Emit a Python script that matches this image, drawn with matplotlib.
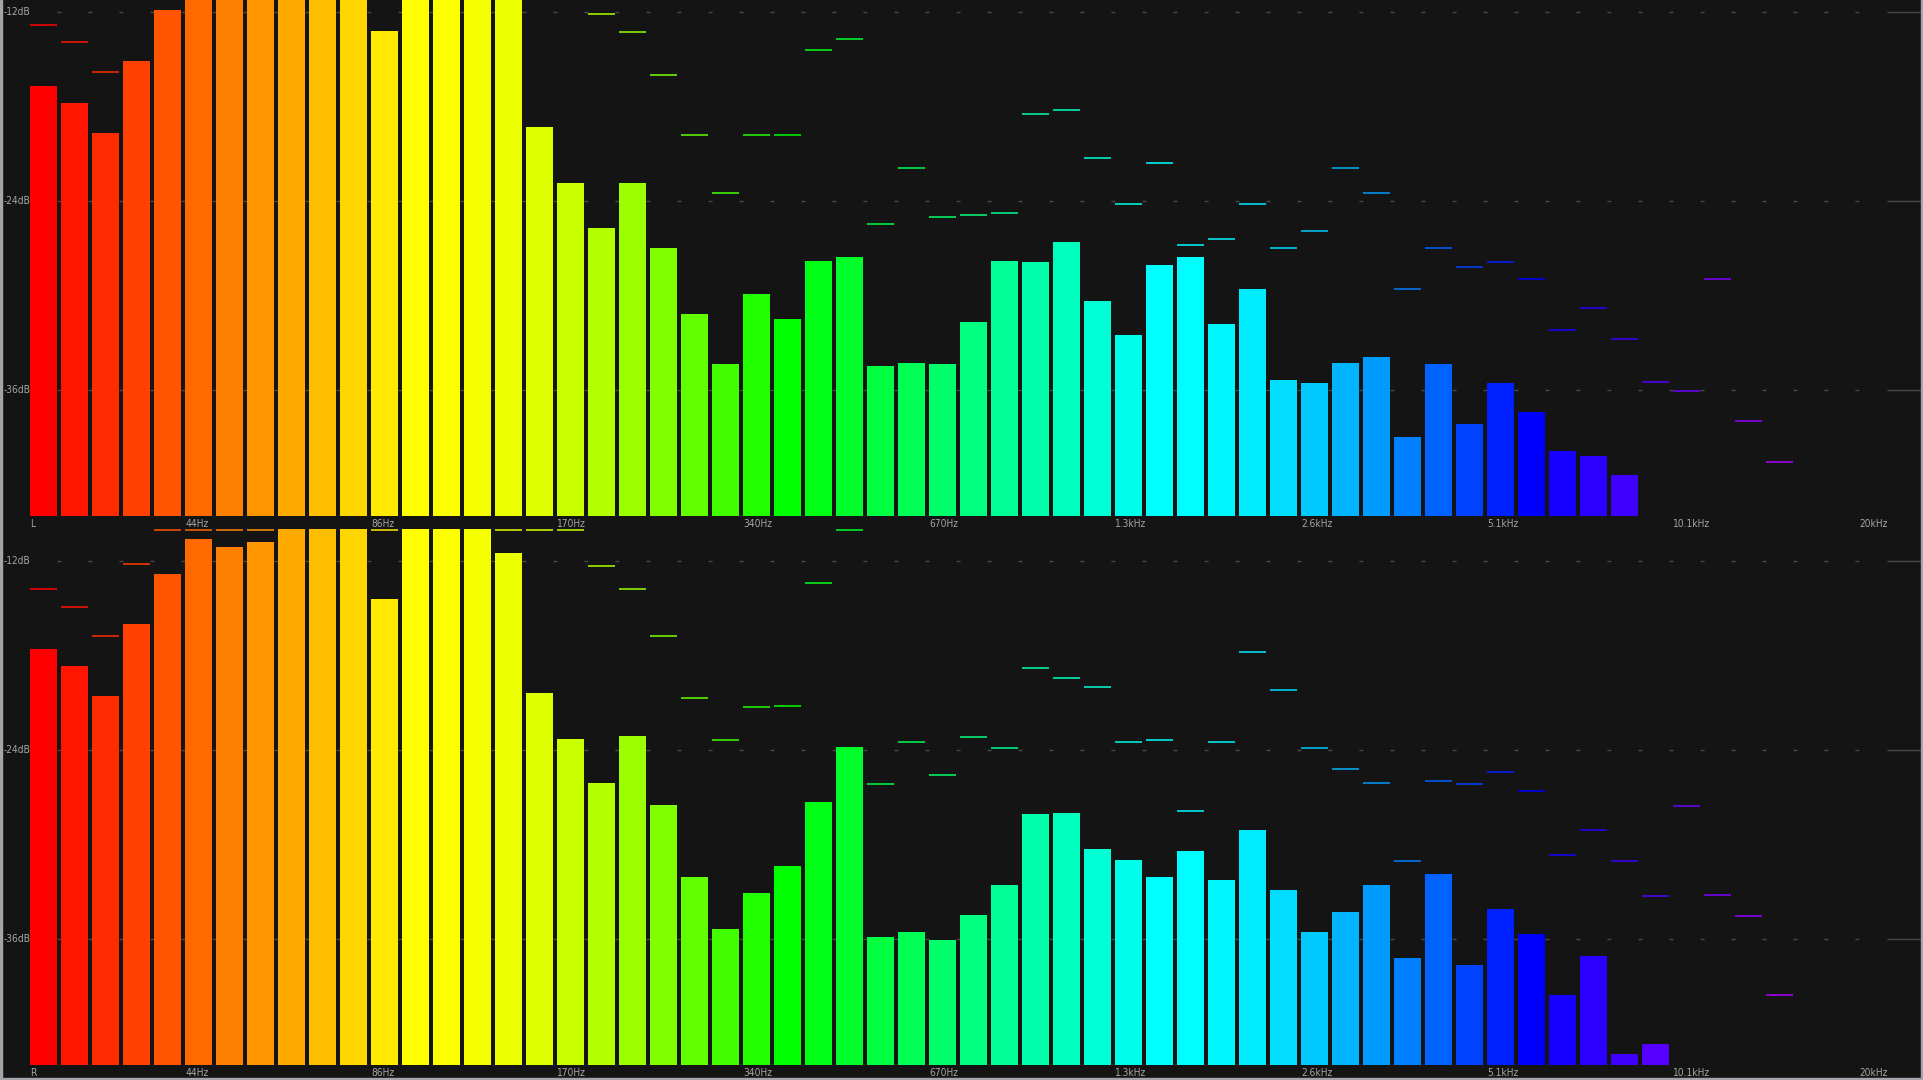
import numpy as np
import matplotlib
matplotlib.use("Agg")
import matplotlib.pyplot as plt
from matplotlib import font_manager
from matplotlib.patches import Rectangle

# band labels (1/6 octave slots), dB gridlines
band_labels = ["44Hz", "86Hz", "170Hz", "340Hz", "670Hz", "1.3kHz",
               "2.6kHz", "5.1kHz", "10.1kHz", "20kHz"]
band_label_slots = [5, 11, 17, 23, 29, 35, 41, 47, 53, 59]
db_ticks = [-12, -24, -36]
channel_names = ["L", "R"]

# current level per band, dB (slots 0..52)
left_level = [-16.7, -17.8, -19.7, -15.1, -11.9, -10.4, -10.1, -9.6, -10.0, -9.8,
              -10.6, -13.2, -9.5, -9.2, -9.7, -10.9, -19.3, -22.9, -25.7, -22.9,
              -27.0, -31.2, -34.4, -29.9, -31.5, -27.8, -27.6, -34.5, -34.3, -34.4,
              -31.7, -27.8, -27.9, -26.6, -30.4, -32.5, -28.1, -27.6, -31.8, -29.6,
              -35.4, -35.6, -34.3, -33.9, -39.0, -34.4, -38.2, -35.6, -37.4, -39.9,
              -40.2, -41.4, -44.0]
right_level = [-17.6, -18.7, -20.6, -16.0, -12.8, -10.6, -11.1, -10.8, -9.6, -9.3,
               -9.5, -14.4, -9.2, -9.0, -9.4, -11.5, -20.4, -23.3, -26.1, -23.1,
               -27.5, -32.1, -35.4, -33.1, -31.4, -27.3, -23.8, -35.9, -35.6, -36.1,
               -34.5, -32.6, -28.1, -28.0, -30.3, -31.0, -32.1, -30.4, -32.3, -29.1,
               -32.9, -35.6, -34.3, -32.6, -37.2, -31.9, -37.7, -34.1, -35.7, -39.6,
               -37.1, -43.3, -42.7]

# peak hold per band, dB (slots 0..56)
left_peak = [-12.8, -13.9, -15.8, -10.9, -10.2, -9.6, -9.0, -8.8, -9.1, -8.9,
             -9.4, -10.3, -8.7, -8.5, -8.9, -9.6, -10.6, -10.8, -12.1, -13.3,
             -16.0, -19.8, -23.5, -19.8, -19.8, -14.4, -13.7, -25.5, -21.9, -25.0,
             -24.9, -24.8, -18.5, -18.2, -21.3, -24.2, -21.6, -26.8, -26.4, -24.2,
             -27.0, -25.9, -21.9, -23.5, -29.6, -27.0, -28.2, -27.9, -29.0, -32.2,
             -30.8, -32.8, -35.5, -36.1, -29.0, -38.0, -40.6]
right_peak = [-13.75, -14.9, -16.75, -12.2, -9.5, -9.2, -9.6, -9.4, -8.8, -8.6,
              -8.9, -9.7, -8.5, -8.4, -8.7, -9.3, -9.6, -9.8, -12.3, -13.8,
              -16.75, -20.7, -23.4, -21.3, -21.2, -13.4, -9.8, -26.15, -23.5, -25.6,
              -23.2, -23.85, -18.8, -19.4, -20.0, -23.5, -23.35, -27.9, -23.5, -17.8,
              -20.2, -23.9, -25.2, -26.1, -31.05, -26.0, -26.15, -25.4, -26.6, -30.7,
              -29.1, -31.05, -33.3, -27.55, -33.2, -34.55, -39.6]

FLOOR = -44.0
TOP = -9.95
SLOTS = 61
BAR_W = 27 / 31
BG = "#141414"
TXT = "#a6a6a6"
GRID = "#484848"

# a narrow ui-ish font if there is one
_names = {f.name for f in font_manager.fontManager.ttflist}
_dv_cond = any(f.name == "DejaVu Sans" and f.stretch == "condensed"
               for f in font_manager.fontManager.ttflist)
if "Liberation Sans Narrow" in _names:
    FONT = dict(family="Liberation Sans Narrow", fontsize=8)
elif _dv_cond:
    FONT = dict(family="DejaVu Sans", fontstretch="condensed", fontsize=7.3)
else:
    FONT = dict(family="Liberation Sans", fontsize=6.6)

W, H = 1923, 1080
fig = plt.figure(figsize=(W / 100, H / 100), dpi=100, facecolor=BG)


def band_color(i):
    # rainbow, 12 bands per sextant; falling channel eases out
    t = i / 12.0
    k = int(t)
    f = t - k
    up, down = f, np.cos(f * np.pi / 2)
    seg = [(1, up, 0), (down, 1, 0), (0, 1, up), (0, down, 1), (up, 0, 1)]
    return seg[min(k, 4)]


def draw_panel(ax, level, peak, name):
    ax.set_facecolor(BG)
    ax.set_xlim(-30 / 31, (W - 30) / 31)
    ax.set_ylim(FLOOR, TOP)
    for s in ax.spines.values():
        s.set_visible(False)
    ax.set_xticks([])
    ax.set_yticks([])

    # gridlines: little dashes in the gaps between bars, solid at the far right
    gaps = np.arange(SLOTS - 2) + BAR_W + (1 - BAR_W) / 2
    for v in db_ticks:
        ax.hlines(np.full(len(gaps), v), gaps - 0.07, gaps + 0.07,
                  color=GRID, lw=1.0, zorder=1)
        ax.hlines(v, (1887 - 30) / 31, (W - 30) / 31, color=GRID, lw=1.0, zorder=1)
        ax.annotate(f"{v}dB", xy=(0, v), xycoords=("axes fraction", "data"),
                    xytext=(2.2, 0), textcoords="offset points",
                    ha="left", va="center", color=TXT, zorder=5, **FONT)

    lv = np.array(level)
    idx = np.arange(len(lv))
    ax.bar(idx, lv - FLOOR, bottom=FLOOR, width=BAR_W, align="edge",
           color=[band_color(i) for i in idx], linewidth=0, zorder=2)

    pk = np.minimum(np.array(peak), TOP - 0.06)
    pidx = np.arange(len(pk))
    ax.hlines(pk, pidx, pidx + BAR_W, colors=[band_color(i) for i in pidx],
              lw=1.1, zorder=3)

    # channel name + frequency labels under the floor
    for txt, slot in [(name, 0)] + list(zip(band_labels, band_label_slots)):
        ax.annotate(txt, xy=(slot, 0), xycoords=("data", "axes fraction"),
                    xytext=(0, -6.2), textcoords="offset points",
                    ha="left", va="center", color=TXT,
                    annotation_clip=False, **FONT)


panel_h = 535.8 / H
ax_top = fig.add_axes([0, (H - 515.5) / H, 1, panel_h])
ax_bot = fig.add_axes([0, (H - 1064.6) / H, 1, panel_h])
draw_panel(ax_top, left_level, left_peak, channel_names[0])
draw_panel(ax_bot, right_level, right_peak, channel_names[1])

# thin window border on left, right and bottom
edge = "#a2a6aa"
fig.add_artist(Rectangle((0, 0), 2 / W, 1, transform=fig.transFigure, color=edge, zorder=10))
fig.add_artist(Rectangle((1 - 2 / W, 0), 2 / W, 1, transform=fig.transFigure, color=edge, zorder=10))
fig.add_artist(Rectangle((0, 0), 1, 2 / H, transform=fig.transFigure, color=edge, zorder=10))

fig.savefig("out.png", dpi=100, facecolor=BG)
